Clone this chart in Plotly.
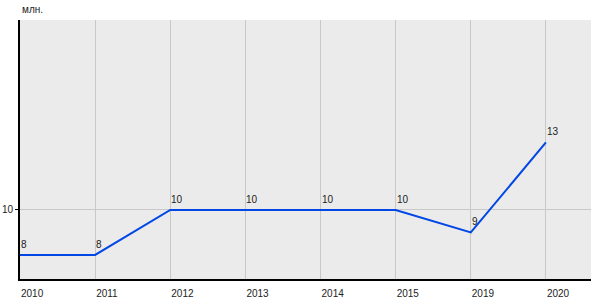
import plotly.graph_objects as go

years = ["2010", "2011", "2012", "2013", "2014", "2015", "2019", "2020"]
values = [8, 8, 10, 10, 10, 10, 9, 13]
labels = ["8", "8", "10", "10", "10", "10", "9", "13"]
unit_label = "млн."
y_ticks = [10]

xs = list(range(len(years)))

fig = go.Figure()
fig.add_trace(go.Scatter(
    x=xs, y=values, mode="lines",
    line=dict(color="#0047e6", width=2),
    cliponaxis=False, hoverinfo="skip",
))

annotations = [dict(text=unit_label, x=0, y=1, xref="paper", yref="paper",
                    xanchor="left", yanchor="bottom", yshift=3, showarrow=False,
                    font=dict(size=10, color="#222222"))]
for xi, v, lab in zip(xs, values, labels):
    annotations.append(dict(text=lab, x=xi, y=v, xref="x", yref="y",
                            xanchor="left", yanchor="bottom", xshift=-1, yshift=3,
                            showarrow=False,
                            font=dict(size=10, color="#222222")))

fig.update_layout(
    width=600, height=300,
    margin=dict(l=20, r=9, t=20, b=21),
    paper_bgcolor="white", plot_bgcolor="#ebebeb",
    showlegend=False,
    font=dict(family="Liberation Sans, Arial", size=10, color="#222222"),
    annotations=annotations,
)
fig.update_xaxes(
    range=[0, 7.6], tickvals=xs, ticktext=years,
    ticklabelposition="outside right", ticklabelstandoff=4,
    showgrid=True, gridcolor="#c8c8c8", gridwidth=1,
    showline=True, linecolor="black", linewidth=2,
    ticks="", zeroline=False, fixedrange=True, automargin=False,
)
fig.update_yaxes(
    range=[6.93, 18.44], tickvals=y_ticks,
    showgrid=True, gridcolor="#c8c8c8", gridwidth=1,
    showline=True, linecolor="black", linewidth=2,
    ticks="outside", ticklen=3, tickcolor="black",
    zeroline=False, fixedrange=True, automargin=False,
)

fig.write_html("out.html")
